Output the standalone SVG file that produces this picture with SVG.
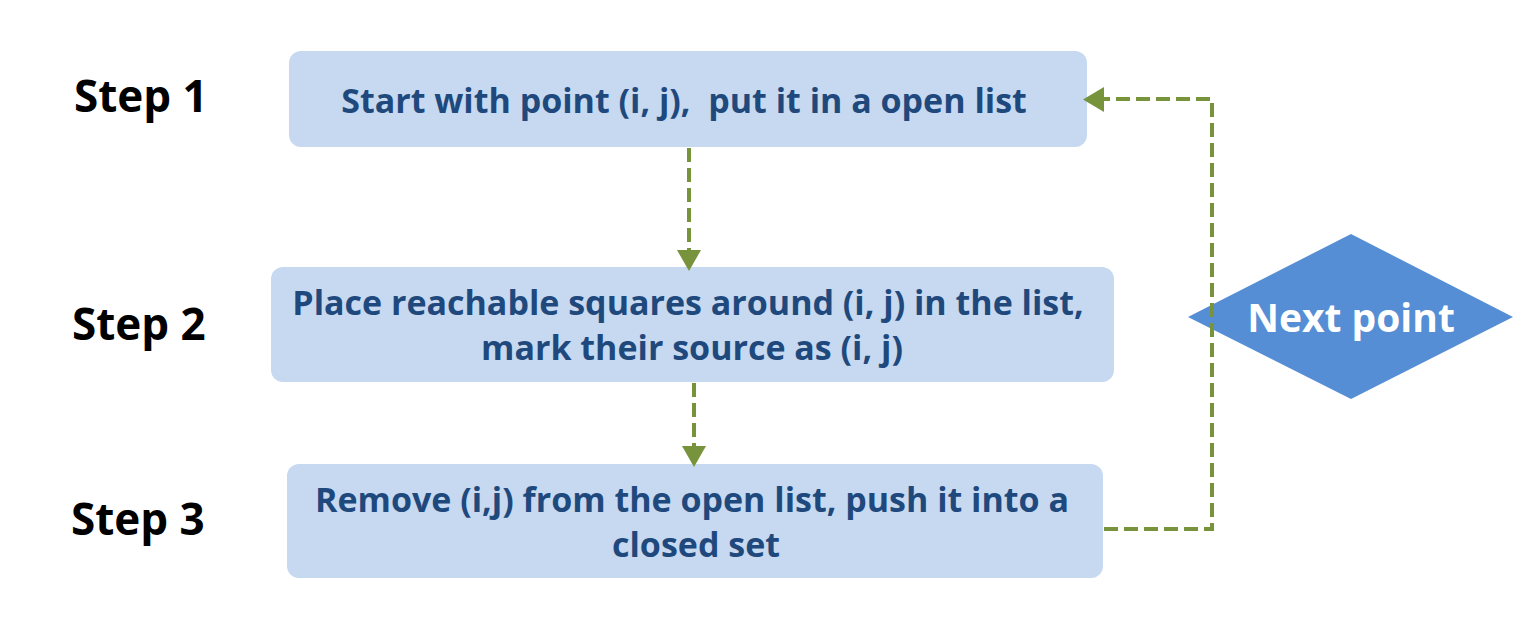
<svg xmlns="http://www.w3.org/2000/svg" width="1533" height="623" viewBox="0 0 1533 623">
<style>
.box{fill:#C6D9F1;}
.t{font-family:"Open Sans","Noto Sans","Liberation Sans",sans-serif;font-weight:bold;fill:#1F497D;font-size:34px;text-anchor:middle;white-space:pre;}
.step{font-family:"Open Sans","Noto Sans","Liberation Sans",sans-serif;font-weight:bold;fill:#000;font-size:44px;}
.c{fill:none;stroke:#77933C;stroke-width:4;stroke-dasharray:14 6;}
</style>
<rect width="1533" height="623" fill="#fff"/>
<g id="labels">
<text class="step" x="74" y="112">Step 1</text>
<text class="step" x="72" y="340">Step 2</text>
<text class="step" x="71" y="535">Step 3</text>
</g>
<g id="node1">
<rect class="box" x="289" y="51" width="798" height="96" rx="12"/>
<text class="t" x="684" y="113" xml:space="preserve">Start with point (i, j),  put it in a open list</text>
</g>
<g id="node2">
<rect class="box" x="271" y="267" width="843" height="115" rx="12"/>
<text class="t" x="688" y="315">Place reachable squares around (i, j) in the list,</text>
<text class="t" x="692" y="360">mark their source as (i, j)</text>
</g>
<g id="node3">
<rect class="box" x="287" y="464" width="816" height="114" rx="12"/>
<text class="t" x="692" y="512">Remove (i,j) from the open list, push it into a</text>
<text class="t" x="696" y="557">closed set</text>
</g>
<g id="node4">
<polygon points="1188,317 1351,234 1513,317 1351,399" fill="#558ED5"/>
<text x="1351" y="332" font-family="'Open Sans','Noto Sans',sans-serif" font-weight="bold" font-size="39" fill="#fff" text-anchor="middle">Next point</text>
</g>
<g id="connectors">
<path class="c" d="M689,148 V252"/>
<polygon points="677,250 701,250 689,271" fill="#77933C"/>
<path class="c" d="M694,383 V448"/>
<polygon points="682,446 706,446 694,467" fill="#77933C"/>
<path class="c" d="M1104,529 H1212 V99 H1102"/>
<polygon points="1104,87 1104,112 1083,99.5" fill="#77933C"/>
</g>
</svg>
